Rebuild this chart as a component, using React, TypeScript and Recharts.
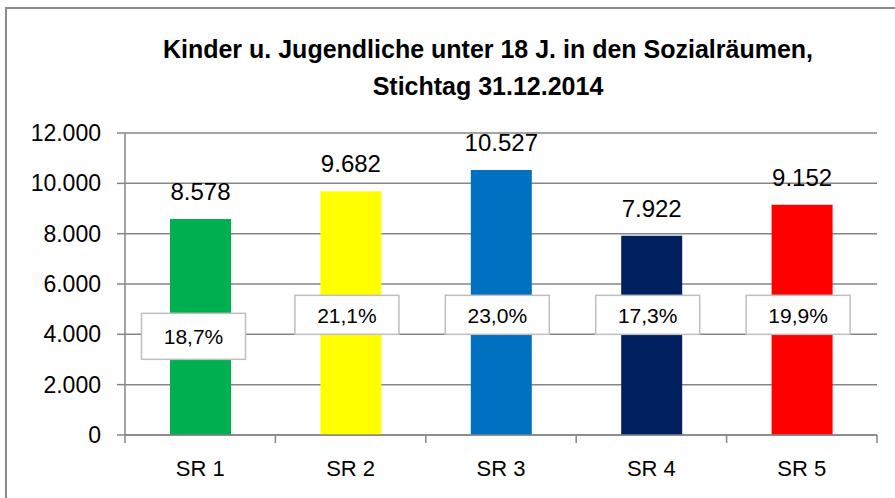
import { BarChart, Bar, XAxis, YAxis, CartesianGrid, Cell, LabelList } from 'recharts'

const categories = ['SR 1', 'SR 2', 'SR 3', 'SR 4', 'SR 5']
const children = [8578, 9682, 10527, 7922, 9152]
const shares = [18.7, 21.1, 23.0, 17.3, 19.9]
const colors = ['#00B050', '#FFFF00', '#0070C0', '#002060', '#FF0000']
const yTicks = [0, 2000, 4000, 6000, 8000, 10000, 12000]

const data = categories.map((name, i) => ({ name, value: children[i], share: shares[i] }))

const W = 895
const H = 498
const margin = { top: 133, right: 18, bottom: 23, left: 0 }
const Y_AXIS_W = 125
const BAND = (W - margin.left - margin.right - Y_AXIS_W) / categories.length
const FONT = '"Liberation Sans", Arial, sans-serif'
const GRID = '#868686'
const SHARE_LEVEL = 4000

const fmt = (v: number) => String(v).replace(/\B(?=(\d{3})+(?!\d))/g, '.')

function XTick(props: any) {
  const { x, y, payload, index } = props
  const half = BAND / 2
  return (
    <g>
      <line x1={x - half} x2={x - half} y1={y} y2={y + 8} stroke={GRID} strokeWidth={1.5} />
      {index === categories.length - 1 && (
        <line x1={x + half} x2={x + half} y1={y} y2={y + 8} stroke={GRID} strokeWidth={1.5} />
      )}
      <text x={x} y={y + 41} textAnchor="middle" fontSize={22} fontFamily={FONT} fill="#000">
        {payload.value}
      </text>
    </g>
  )
}

function ValueLabel(props: any) {
  const { x, y, width, value } = props
  return (
    <text x={x + width / 2} y={y - 19} textAnchor="middle" fontSize={24} fontFamily={FONT} fill="#000">
      {fmt(value)}
    </text>
  )
}

function ShareLabel(props: any) {
  const { x, y, width, height, index } = props
  const v = children[index]
  const bottom = y + height
  const levelY = bottom - (height * SHARE_LEVEL) / v
  const boxW = 104
  const boxH = index === 0 ? 46 : 39
  const top = index === 0 ? levelY - 21 : levelY - 39
  const cx = x + width / 2 - (index === 0 ? 7 : 4)
  return (
    <g>
      <rect x={cx - boxW / 2} y={top} width={boxW} height={boxH} fill="#fff" stroke="#BFBFBF" strokeWidth={1.5} />
      <text x={cx} y={top + boxH / 2 + 8} textAnchor="middle" fontSize={21} fontFamily={FONT} fill="#000">
        {shares[index].toFixed(1).replace('.', ',') + '%'}
      </text>
    </g>
  )
}

export default function App() {
  return (
    <div style={{ position: 'fixed', left: 0, top: 0, width: W, height: H, overflow: 'hidden', background: '#fff' }}>
      <div
        style={{
          position: 'absolute',
          left: 5,
          top: 7,
          width: 1000,
          height: 1000,
          border: '2px solid #8c8c8c',
        }}
      />
      <div
        style={{
          position: 'absolute',
          left: 88,
          top: 31,
          width: 800,
          textAlign: 'center',
          fontFamily: FONT,
          fontWeight: 'bold',
          fontSize: 25,
          lineHeight: '37px',
          color: '#000',
        }}
      >
        Kinder u. Jugendliche unter 18 J. in den Sozialräumen,
        <br />
        Stichtag 31.12.2014
      </div>
      <div style={{ position: 'absolute', left: 0, top: 0 }}>
        <BarChart width={W} height={H} data={data} margin={margin}>
          <CartesianGrid vertical={false} stroke={GRID} strokeWidth={1.5} />
          <XAxis
            dataKey="name"
            height={40}
            axisLine={{ stroke: GRID, strokeWidth: 1.5 }}
            tickLine={false}
            tickSize={0}
            tickMargin={0}
            tick={<XTick />}
            interval={0}
          />
          <YAxis
            width={Y_AXIS_W}
            domain={[0, 12000]}
            ticks={yTicks}
            interval={0}
            tickFormatter={fmt}
            axisLine={{ stroke: GRID, strokeWidth: 1.5 }}
            tickLine={{ stroke: GRID, strokeWidth: 1.5 }}
            tickSize={8}
            tickMargin={16}
            tick={{ fontSize: 23, fontFamily: FONT, fill: '#000' }}
          />
          <Bar dataKey="value" barSize={61} isAnimationActive={false}>
            {data.map((d, i) => (
              <Cell key={d.name} fill={colors[i]} />
            ))}
            <LabelList dataKey="value" content={<ValueLabel />} />
            <LabelList dataKey="share" content={<ShareLabel />} />
          </Bar>
        </BarChart>
      </div>
    </div>
  )
}
